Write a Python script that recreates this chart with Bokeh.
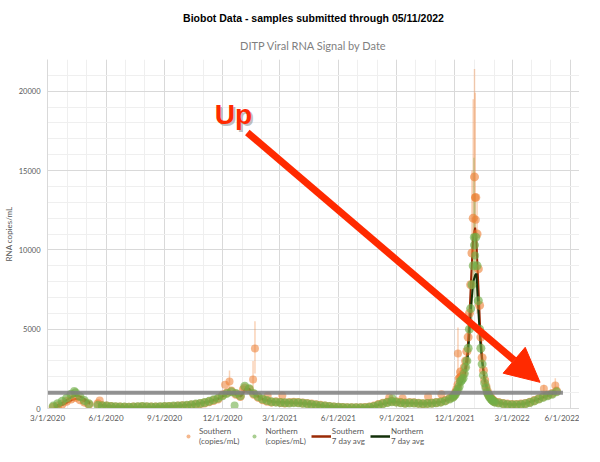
import pandas as pd
from bokeh.plotting import figure
from bokeh.layouts import column
from bokeh.models import (Range1d, FixedTicker, SingleIntervalTicker, DatetimeTickFormatter,
                          Legend, LegendItem, Title, Label, Arrow, NormalHead)
from bokeh.embed import file_html
from bokeh.resources import INLINE

nan = float("nan")

# ---------------- data (copies/mL) ----------------
# weekly samples starting 2020-03-10
weekly1_start = "2020-03-10"
south_weekly_1 = [80, 150, 280, 450, 600, 700, 550, 400, 250, nan, 300, 180, 150, 120, 100, 90, 80, 80, 90, 100,
                  110, 100, 100, 90, 100, 110, 120, 130, 150, 170, 180, 220, 260, 300, 350, 420, 500, 600, 850, 1000,
                  1100, 900, 750, 1300, 1200, 900, 700, 550, 450, 400, 420, 380, 350, 380, 400, 380, 350, 320, 280, 230,
                  200, 160, 130, 100, 80, 60, 50, 40, 40, 45, 60, 90, 150, 250, 330, 400, 450, 420, 380, 350,
                  380, 360, 330, 300, 320, 350, 380, 420, 500, 650]
north_weekly_1 = [150, 300, 450, 650, 900, 1000, 750, 500, 300, nan, 200, 170, 150, 130, 110, 100, 90, 80, 100, 110,
                  120, 110, 100, 100, 110, 120, 130, 150, 160, 180, 200, 230, 280, 320, 380, 450, 550, 650, 800, 950,
                  1050, 950, 800, 1400, 1250, 950, 750, 600, 500, 420, 400, 380, 360, 350, 370, 360, 330, 300, 260, 220,
                  180, 150, 120, 100, 80, 60, 50, 45, 40, 45, 55, 80, 130, 220, 300, 380, 420, 400, 360, 330,
                  350, 340, 320, 300, 310, 330, 360, 400, 480, 600]
# every two days starting 2021-11-28 (Omicron wave)
daily_start = "2021-11-28"
south_daily = [750, 850, 1000, 1200, 1500, 1900, 2300, 2000, 2200, 2600, 3000, 3600, 4500, 6000, 7800, 9800, 12000,
               14600, 13300, 11000, 8800, 6500, 4500, 3200, 2400, 1800, 1400, 1100, 900, 750, 650, 550, 480, 420]
north_daily = [700, 800, 900, 1050, 1200, 1400, 1700, 1800, 1900, 2200, 2600, 3000, 3800, 5000, 6300, 7800, 9000,
               10300, 10800, 9000, 6800, 5000, 3800, 2800, 2100, 1600, 1300, 1000, 850, 700, 600, 520, 450, 400]
# weekly samples starting 2022-02-08
weekly2_start = "2022-02-08"
south_weekly_2 = [380, 320, 280, 250, 250, 280, 320, 400, 500, 620, 750, 850, 950, 1100]
north_weekly_2 = [350, 300, 260, 240, 240, 260, 300, 380, 480, 600, 700, 800, 900, 1050]

# single outlying samples
south_extra_dates = ["2020-05-22", "2020-12-05", "2020-12-12", "2021-01-02", "2021-01-18", "2021-01-21",
                     "2021-02-10", "2021-03-05", "2021-08-20", "2021-09-10", "2021-10-20", "2021-11-10",
                     "2021-12-06", "2021-12-09", "2022-01-02", "2022-01-03", "2022-04-20", "2022-05-08"]
south_extra_vals = [500, 1500, 1700, 1200, 1830, 3780, 800, 820, 700, 650, 750, 900,
                    3470, 1960, 13300, 11900, 1250, 1450]
north_extra_dates = ["2020-04-12", "2020-12-20", "2021-08-25", "2021-12-31", "2022-01-02"]
north_extra_vals = [1100, 190, 650, 10800, 9650]

# error bars
south_err_dates = ["2020-12-12", "2021-01-18", "2021-01-21", "2021-12-06", "2021-12-28", "2021-12-30",
                   "2022-01-01", "2022-01-02", "2022-01-05", "2022-04-20", "2022-05-08"]
south_err_lo = [900, 1000, 2200, 1500, 6000, 8000, 10000, 9000, 6000, 800, 900]
south_err_hi = [2400, 3000, 5500, 5100, 15000, 19500, 21400, 19900, 13000, 1500, 1900]
north_err_dates = ["2021-12-28", "2021-12-31", "2022-01-02"]
north_err_lo = [5000, 7000, 6500]
north_err_hi = [11000, 15800, 13500]

# 7 day averages
avg_dates = ["2020-03-12", "2020-03-26", "2020-04-09", "2020-04-16", "2020-04-23", "2020-05-07", "2020-05-12",
             "2020-05-20", "2020-06-10", "2020-07-15", "2020-08-15", "2020-09-15", "2020-10-15", "2020-11-10",
             "2020-11-25", "2020-12-10", "2020-12-22", "2020-12-30", "2021-01-06", "2021-01-12", "2021-01-20",
             "2021-02-03", "2021-02-20", "2021-03-20", "2021-04-15", "2021-05-10", "2021-06-10", "2021-07-01",
             "2021-07-20", "2021-08-05", "2021-08-25", "2021-09-20", "2021-10-15", "2021-11-10", "2021-11-25",
             "2021-12-05", "2021-12-12", "2021-12-17", "2021-12-21", "2021-12-24", "2021-12-27", "2021-12-30",
             "2022-01-02", "2022-01-04", "2022-01-07", "2022-01-10", "2022-01-13", "2022-01-17", "2022-01-22",
             "2022-01-29", "2022-02-10", "2022-03-01", "2022-03-20", "2022-04-10", "2022-04-25", "2022-05-10"]
south_avg = [60, 250, 550, 620, 560, 300, nan, 250, 120, 90, 95, 130, 230, 420, 600, 980, 880, 760, 1150, 1200,
             880, 550, 410, 380, 310, 170, 65, 40, 85, 260, 440, 370, 310, 430, 680, 1300, 2000, 2500, 3600,
             5800, 8500, 10800, 11400, 10500, 7800, 5000, 3200, 1900, 1100, 620, 350, 250, 310, 580, 830, 1050]
north_avg = [100, 400, 750, 820, 720, 350, nan, 200, 130, 95, 105, 145, 250, 450, 650, 950, 900, 800, 1250, 1250,
             920, 590, 410, 360, 290, 160, 65, 42, 80, 230, 410, 345, 305, 410, 630, 1100, 1700, 2200, 3000,
             4700, 6600, 8000, 8400, 8500, 6200, 4200, 2900, 1700, 1000, 580, 330, 240, 290, 560, 780, 1000]

threshold = 1000
threshold_from, threshold_to = "2020-02-20", "2022-05-20"

xtick_labels = ["3/1/2020", "6/1/2020", "9/1/2020", "12/1/2020", "3/1/2021", "6/1/2021",
                "9/1/2021", "12/1/2021", "3/1/2022", "6/1/2022"]
legend_labels = ["Southern\n(copies/mL)", "Northern\n(copies/mL)", "Southern\n7 day avg", "Northern\n7 day avg"]

# ---------------- build ----------------
def ms(d):
    return pd.Timestamp(d).value / 1e6

south_dates = (list(pd.date_range(weekly1_start, periods=len(south_weekly_1), freq="7D"))
               + list(pd.date_range(daily_start, periods=len(south_daily), freq="2D"))
               + list(pd.date_range(weekly2_start, periods=len(south_weekly_2), freq="7D")))
south_vals = south_weekly_1 + south_daily + south_weekly_2
north_vals = north_weekly_1 + north_daily + north_weekly_2

FONT = "Lato"
GREY = "#595959"
ORANGE = "#ED7D31"
GREEN = "#70AD47"
S_AVG = "#9a2a05"
N_AVG = "#13300a"

p = figure(frame_width=532, frame_height=349, x_axis_type="datetime",
           x_range=Range1d(pd.Timestamp("2020-03-01"), pd.Timestamp("2022-06-15")),
           y_range=Range1d(0, 22000),
           output_backend="svg", toolbar_location=None,
           min_border_left=45, min_border_right=0, min_border_top=0, min_border_bottom=0)
p.outline_line_color = None
p.background_fill_color = "white"

# titles (first added sits closest to the plot)
p.add_layout(Title(text="DITP Viral RNA Signal by Date", align="center", text_font=FONT,
                   text_font_size="11px", text_font_style="normal", text_color="#7f7f7f",
                   offset=-29, standoff=16), "above")
p.add_layout(Title(text="Biobot Data - samples submitted through 05/11/2022", align="center",
                   text_font="Liberation Sans", text_font_size="10.5px", text_font_style="bold",
                   text_color="black", standoff=9), "above")
p.add_layout(Title(text=" ", text_font_size="3px", standoff=0), "above")

# axes / grid
xt = [ms(pd.to_datetime(s, format="%m/%d/%Y")) for s in xtick_labels]
minor = [ms(d) for d in pd.date_range("2020-03-01", "2022-06-01", freq="MS")]
p.xaxis.ticker = FixedTicker(ticks=xt, minor_ticks=minor)
fmt = "%-m/%-d/%Y"
p.xaxis.formatter = DatetimeTickFormatter(days=fmt, months=fmt, years=fmt, hours=fmt, minutes=fmt,
                                          seconds=fmt, milliseconds=fmt, microseconds=fmt, minsec=fmt,
                                          hourmin=fmt)
p.yaxis.ticker = SingleIntervalTicker(interval=5000, num_minor_ticks=5)
for ax in (p.xaxis, p.yaxis):
    ax.axis_line_color = "#d9d9d9"
    ax.major_tick_line_color = None
    ax.minor_tick_line_color = None
    ax.major_tick_out = 0
    ax.major_tick_in = 0
    ax.minor_tick_out = 0
    ax.minor_tick_in = 0
    ax.major_label_text_font = FONT
    ax.major_label_text_font_size = "8px"
    ax.major_label_text_color = GREY
p.yaxis.major_label_text_font_size = "7.5px"
p.xaxis.major_label_standoff = 4
p.yaxis.major_label_standoff = 7
p.yaxis.axis_label = "RNA copies/mL"
p.yaxis.axis_label_text_font = FONT
p.yaxis.axis_label_text_font_size = "8px"
p.yaxis.axis_label_text_font_style = "normal"
p.yaxis.axis_label_text_color = GREY
p.yaxis.axis_label_standoff = 2
p.xgrid.grid_line_color = "#d9d9d9"
p.ygrid.grid_line_color = "#d9d9d9"
p.xgrid.minor_grid_line_color = "#efefef"
p.ygrid.minor_grid_line_color = "#efefef"

# error bars
p.segment(x0=pd.to_datetime(south_err_dates), y0=south_err_lo, x1=pd.to_datetime(south_err_dates),
          y1=south_err_hi, line_color=ORANGE, line_alpha=0.35, line_width=1.5)
p.segment(x0=pd.to_datetime(north_err_dates), y0=north_err_lo, x1=pd.to_datetime(north_err_dates),
          y1=north_err_hi, line_color=GREEN, line_alpha=0.3, line_width=1.5)

# 7 day avgs (under the points)
p.line(pd.to_datetime(avg_dates), south_avg, line_color=S_AVG, line_width=2)
p.line(pd.to_datetime(avg_dates), north_avg, line_color=N_AVG, line_width=2)

# points
p.scatter(south_dates, south_vals, size=9, fill_color=ORANGE, fill_alpha=0.6, line_color=None)
p.scatter(pd.to_datetime(south_extra_dates), south_extra_vals, size=8, fill_color=ORANGE, fill_alpha=0.55,
          line_color=None)
p.scatter(south_dates, north_vals, size=9, fill_color=GREEN, fill_alpha=0.65, line_color=None)
p.scatter(pd.to_datetime(north_extra_dates), north_extra_vals, size=8, fill_color=GREEN, fill_alpha=0.6,
          line_color=None)

# threshold line
p.segment(x0=[pd.Timestamp(threshold_from)], y0=[threshold], x1=[pd.Timestamp(threshold_to)], y1=[threshold],
          line_color="#7f7f7f", line_alpha=0.85, line_width=4)

# annotation arrow + "Up"
arrow_from = ("2021-01-09", 17400)
arrow_to = ("2022-04-14", 1650)
RED = "#FF2A00"
p.add_layout(Arrow(end=NormalHead(size=34, fill_color=RED, line_color=RED),
                   x_start=ms(arrow_from[0]), y_start=arrow_from[1],
                   x_end=ms(arrow_to[0]), y_end=arrow_to[1],
                   line_color=RED, line_width=7))
up_at = ("2020-12-18", 18550)
p.add_layout(Label(x=ms(up_at[0]), y=up_at[1], text="Up", text_align="center", text_baseline="alphabetic",
                   x_offset=2, y_offset=-2,
                   text_font="Liberation Sans", text_font_size="28px", text_font_style="bold",
                   text_color="#8c8c8c", text_alpha=0.55))
p.add_layout(Label(x=ms(up_at[0]), y=up_at[1], text="Up", text_align="center", text_baseline="alphabetic",
                   text_font="Liberation Sans", text_font_size="28px", text_font_style="bold",
                   text_color=RED))

# ---------------- legend strip (below the chart) ----------------
lp = figure(width=584, height=21, x_range=Range1d(0, 1), y_range=Range1d(0, 1),
            output_backend="svg", toolbar_location=None,
            min_border_left=0, min_border_right=0, min_border_top=0, min_border_bottom=0)
lp.axis.visible = False
lp.grid.visible = False
lp.outline_line_color = None
off = [-5]  # legend-only renderers, kept outside the visible range
g_s = lp.scatter(off, off, size=7, fill_color=ORANGE, fill_alpha=0.55, line_color=None)
g_n = lp.scatter(off, off, size=7, fill_color=GREEN, fill_alpha=0.6, line_color=None)
g_sa = lp.line(off, off, line_color=S_AVG, line_width=2.5)
g_na = lp.line(off, off, line_color=N_AVG, line_width=2.5)
legend = Legend(items=[LegendItem(label=legend_labels[0], renderers=[g_s]),
                       LegendItem(label=legend_labels[1], renderers=[g_n]),
                       LegendItem(label=legend_labels[2], renderers=[g_sa]),
                       LegendItem(label=legend_labels[3], renderers=[g_na])],
                orientation="horizontal", location=(131, 0), border_line_color=None,
                background_fill_alpha=0, label_text_font=FONT, label_text_font_size="8px",
                label_text_color=GREY, label_text_align="left", glyph_width=20, glyph_height=10,
                label_standoff=1, spacing=5, padding=0, margin=0)
lp.add_layout(legend, "center")

open("out.html", "w").write(file_html(column(p, lp, spacing=0), INLINE))
